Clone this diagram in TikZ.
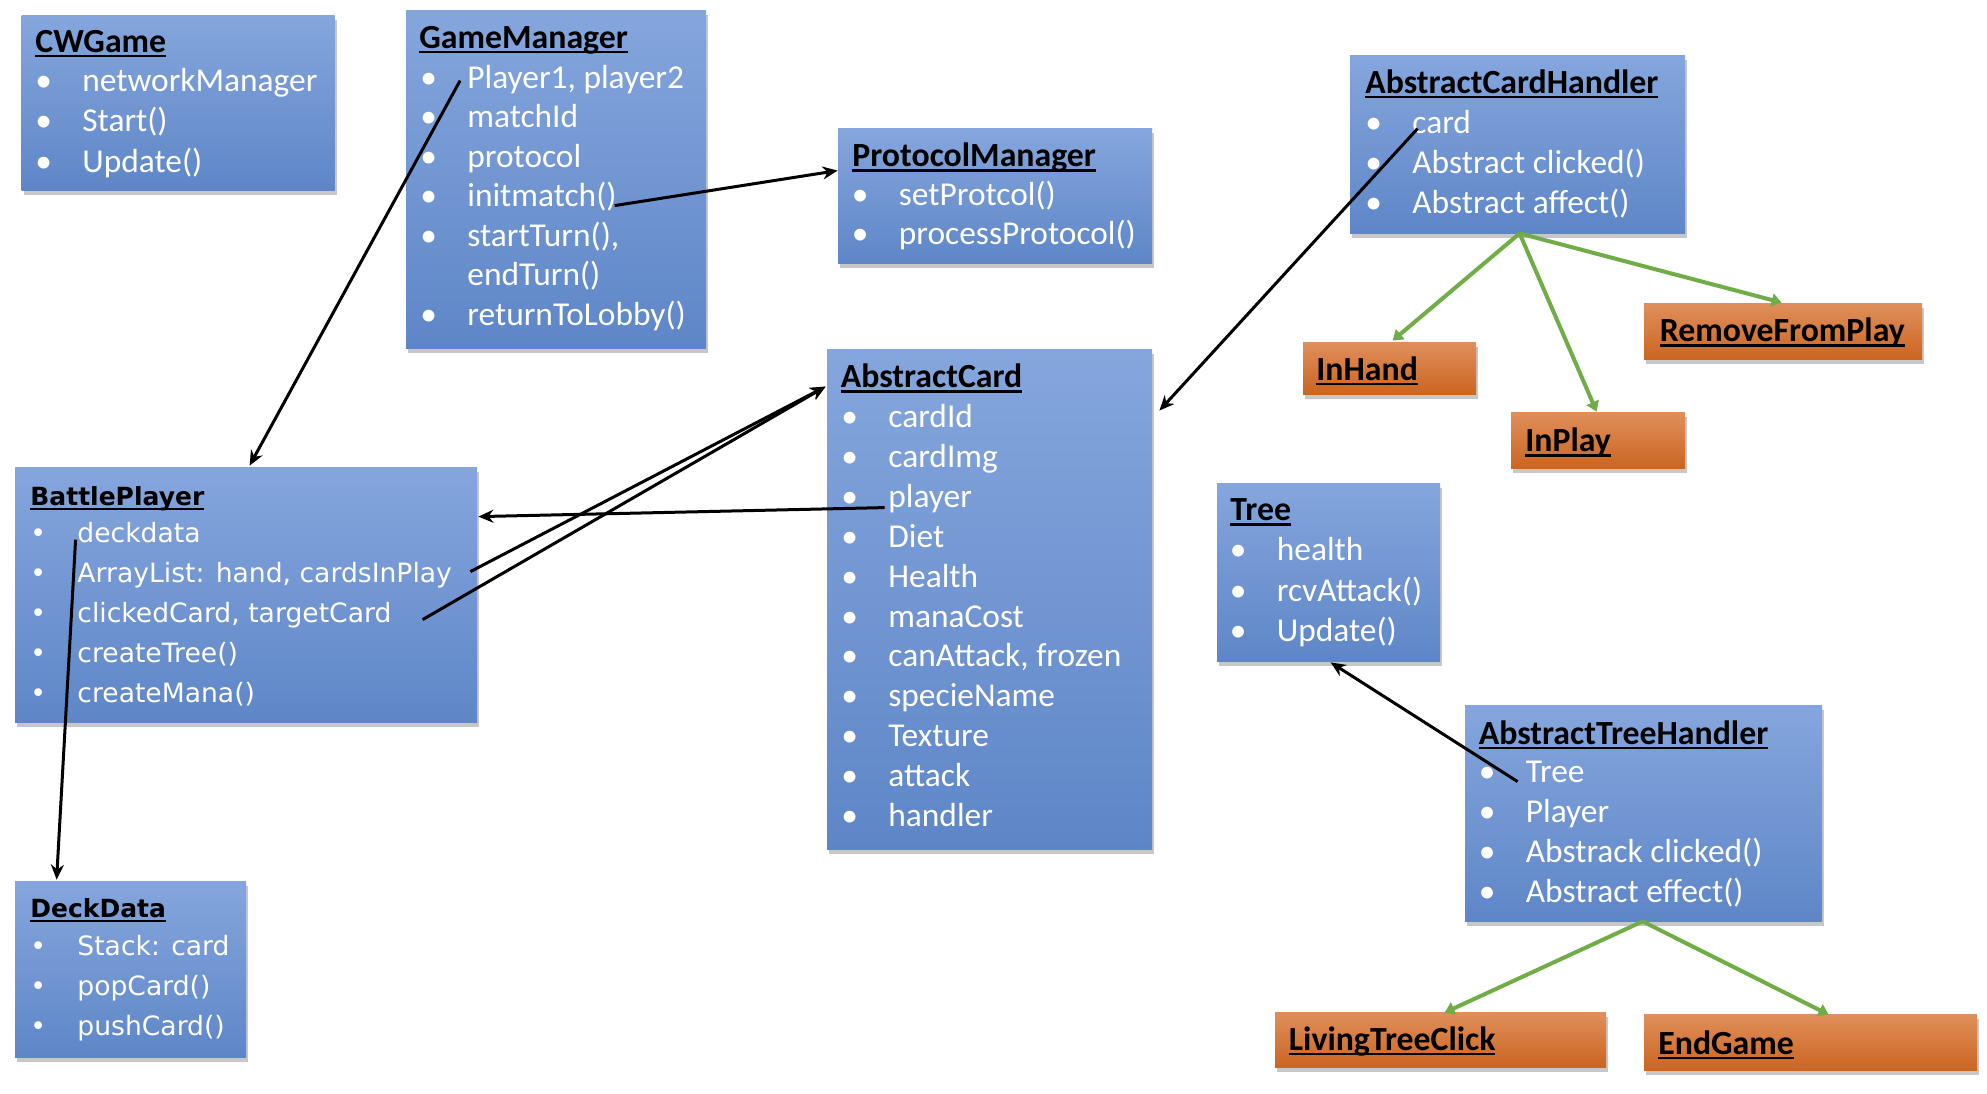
\documentclass[tikz,border=0pt]{standalone}
\usepackage{fontspec}
\setmainfont{Carlito}
\newfontfamily\vfont{DejaVu Sans}
\usetikzlibrary{arrows.meta,calc,fit,shadows}
\definecolor{bTop}{RGB}{133,166,221}
\definecolor{bBot}{RGB}{94,134,199}
\definecolor{oTop}{RGB}{224,143,92}
\definecolor{oBot}{RGB}{203,101,33}
\definecolor{gLine}{RGB}{112,173,71}
\newsavebox\ulbox
\newcommand\myul[1]{\sbox\ulbox{#1}\rlap{\rule[-2.4pt]{\wd\ulbox}{1.1pt}}\usebox\ulbox}
\newcommand\bul[1]{\makebox[23.5pt][l]{\textbullet}#1}
\newcommand\nobul[1]{\makebox[23.5pt][l]{}#1}
\newcommand\itemlist[6]{%
  \foreach \lbl [count=\i from 1] in {#6} {%
    \node[#2] (#1-\i) at (#3, {#4+(\i-1)*#5}) {\bul{\lbl}};}}
\tikzset{
  classbox/.style={inner sep=0pt, draw=none, top color=bTop, bottom color=bBot,
    drop shadow={shadow xshift=1.2pt, shadow yshift=-2.5pt, fill=black, opacity=0.22}},
  leafbox/.style={inner sep=0pt, draw=none, top color=oTop, bottom color=oBot,
    drop shadow={shadow xshift=1.2pt, shadow yshift=-2.5pt, fill=black, opacity=0.22}},
  ttl/.style={anchor=base west, inner sep=0pt, text=black, font=\fontsize{16.9}{19}\selectfont\bfseries},
  itm/.style={anchor=base west, inner sep=0pt, text=white, font=\fontsize{16.7}{19}\selectfont},
  vttl/.style={anchor=base west, inner sep=0pt, text=black, font=\vfont\fontsize{12.5}{15}\selectfont\bfseries},
  vitm/.style={anchor=base west, inner sep=0pt, text=white, font=\vfont\fontsize{13.3}{16}\selectfont},
  link/.style={black, line width=1.5pt, -{Stealth[length=7.5pt,width=6.5pt]}},
  spec/.style={gLine, line width=2pt, -{Triangle[length=5pt,width=6.5pt]}}
}
\begin{document}
\begin{tikzpicture}[x=0.5pt,y=-0.5pt]
\useasboundingbox (0,0) rectangle (1987,1093);
% boxes
\node[classbox, fit={(21.5,15) (334.5,190)}] (cw) {};
\node[classbox, fit={(406,10) (706,348)}] (gm) {};
\node[classbox, fit={(838,128) (1152,263)}] (pm) {};
\node[classbox, fit={(1350,55) (1685,233)}] (ach) {};
\node[classbox, fit={(827,349) (1152,849)}] (ac) {};
\node[classbox, fit={(15,467) (477,722)}] (bp) {};
\node[classbox, fit={(15,881) (246,1057)}] (dd) {};
\node[classbox, fit={(1217,483) (1440,661)}] (tree) {};
\node[classbox, fit={(1465,705) (1822,921)}] (ath) {};
\node[leafbox, fit={(1303,342) (1476,394)}] (ih) {};
\node[leafbox, fit={(1644,303) (1922,359)}] (rfp) {};
\node[leafbox, fit={(1511,412) (1685,468)}] (ip) {};
\node[leafbox, fit={(1275,1012) (1606,1067)}] (ltc) {};
\node[leafbox, fit={(1644,1014) (1977,1070)}] (eg) {};
% CWGame
\node[ttl] (cw-t) at (35,52) {\myul{CWGame}};
\itemlist{cw}{itm}{35}{91}{40.5}{networkManager, Start(), Update()}
% GameManager
\node[ttl] (gm-t) at (419,48) {\myul{GameManager}};
\itemlist{gm}{itm}{420}{88}{39.5}{{Player1, player2}, matchId, protocol, initmatch(), {startTurn(),}}
\node[itm] (gm-6) at (420,285.5) {\nobul{endTurn()}};
\node[itm] (gm-7) at (420,325) {\bul{returnToLobby()}};
% ProtocolManager
\node[ttl] (pm-t) at (852,166.7) {\myul{ProtocolManager}};
\itemlist{pm}{itm}{851.5}{205}{39}{setProtcol(), processProtocol()}
% AbstractCardHandler
\node[ttl] (ach-t) at (1365,93) {\myul{AbstractCardHandler}};
\itemlist{ach}{itm}{1365}{133}{40.3}{card, Abstract clicked(), Abstract affect()}
% AbstractCard
\node[ttl] (ac-t) at (840.5,387.7) {\myul{AbstractCard}};
\itemlist{ac}{itm}{841}{427.3}{39.94}{cardId, cardImg, player, Diet, Health, manaCost, {canAttack, frozen}, specieName, Texture, attack, handler}
% BattlePlayer
\node[vttl] (bp-t) at (30,505) {\myul{BattlePlayer}};
\itemlist{bp}{vitm}{30}{542.5}{40}{deckdata, {ArrayList: hand, cardsInPlay}, {clickedCard, targetCard}, createTree(), createMana()}
% DeckData
\node[vttl] (dd-t) at (30,917.5) {\myul{DeckData}};
\itemlist{dd}{vitm}{30}{955.5}{39.8}{Stack: card, popCard(), pushCard()}
% Tree
\node[ttl] (tree-t) at (1230,520.8) {\myul{Tree}};
\itemlist{tree}{itm}{1229.5}{560.5}{40.5}{health, rcvAttack(), Update()}
% AbstractTreeHandler
\node[ttl] (ath-t) at (1478.5,744) {\myul{AbstractTreeHandler}};
\itemlist{ath}{itm}{1478.5}{782}{40}{Tree, Player, Abstrack clicked(), Abstract effect()}
% orange leaves
\node[ttl] (ih-t) at (1316,380) {\myul{InHand}};
\node[ttl] (rfp-t) at (1659.5,341.7) {\myul{RemoveFromPlay}};
\node[ttl] (ip-t) at (1525,451.7) {\myul{InPlay}};
\node[ttl] (ltc-t) at (1288.5,1050) {\myul{LivingTreeClick}};
\node[ttl] (eg-t) at (1658,1054) {\myul{EndGame}};
% associations
\draw[link] ($(gm.north west)+(54.5,71)$) -- ($(bp.north west)+(235,-1)$);
\draw[link] ($(gm.north west)+(209,196)$) -- ($(pm.north west)+(0,43)$);
\draw[link] ($(ach.north west)+(68,74)$) -- ($(ac.north east)+(7,62)$);
\draw[link] ($(ac.north west)+(58,159)$) -- ($(bp.north east)+(1,50)$);
\draw[link] ($(bp.north east)+(-7,105)$) -- ($(ac.north west)+(-1,38)$);
\draw[link] ($(bp.north west)+(408,153)$) -- ($(ac.north west)+(-1,38)$);
\draw[link] ($(bp.north west)+(61,73)$) -- ($(dd.north west)+(42,-1)$);
\draw[link] ($(ath.north west)+(53,77)$) -- ($(tree.south west)+(114,1)$);
% specialisations
\draw[spec] ($(ach.south west)+(170,0)$) -- ($(ih.north west)+(90,-1)$);
\draw[spec] ($(ach.south west)+(170,0)$) -- ($(ip.north west)+(86,0)$);
\draw[spec] ($(ach.south west)+(170,0)$) -- ($(rfp.north west)+(138,0)$);
\draw[spec] ($(ath.south west)+(178,0)$) -- ($(ltc.north west)+(170,1)$);
\draw[spec] ($(ath.south west)+(178,0)$) -- ($(eg.north west)+(185,1)$);
\end{tikzpicture}
\end{document}
